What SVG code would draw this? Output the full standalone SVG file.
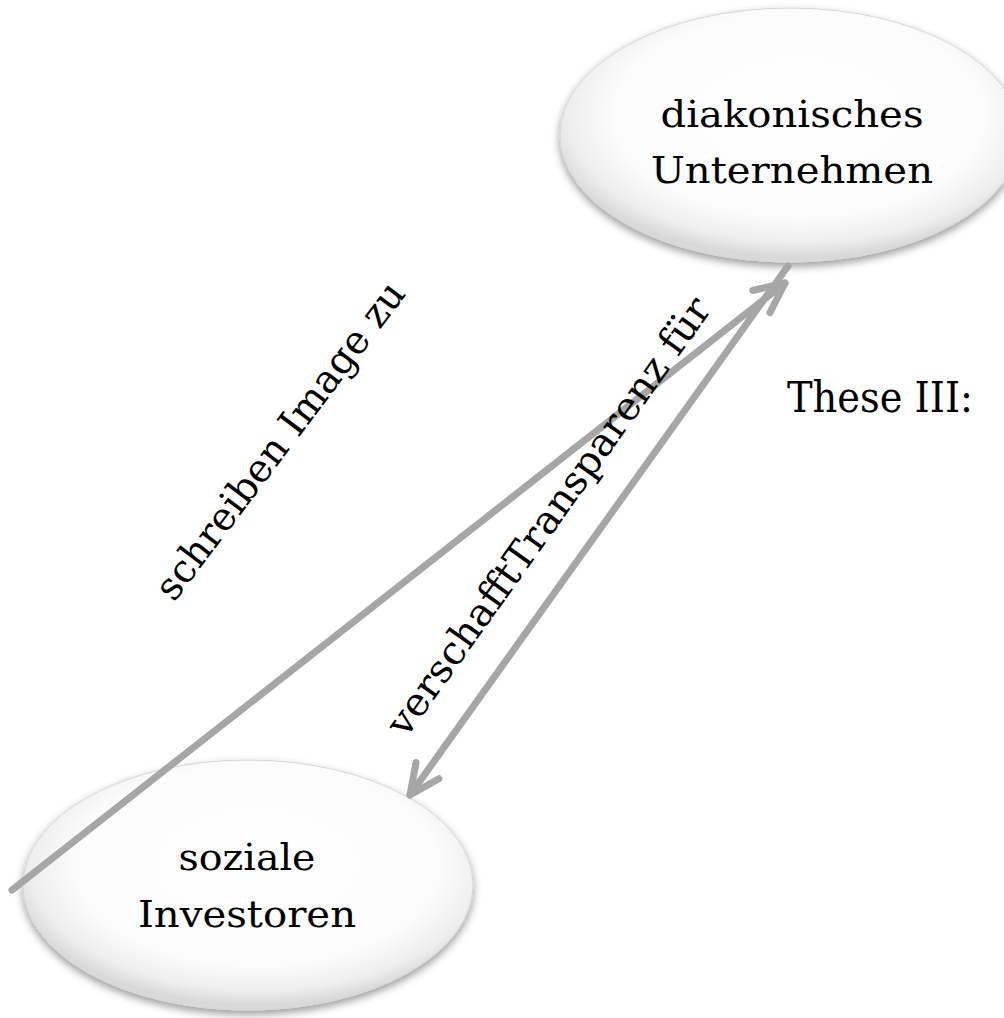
<svg xmlns="http://www.w3.org/2000/svg" width="1004" height="1018" viewBox="0 0 1004 1018">
  <style>
    .node-text { font-family: "DejaVu Serif", "Liberation Serif", serif; font-size: 38px; fill: #000; text-anchor: middle; }
    .label { font-family: "DejaVu Serif", "Liberation Serif", serif; font-size: 39px; fill: #000; }
    .conn { stroke: #a6a6a6; stroke-width: 7; fill: none; stroke-linecap: round; }
    .oval { fill: url(#ovalFill); stroke: #d6d6d6; stroke-width: 1; filter: url(#shadow); }
  </style>
  <defs>
    <radialGradient id="ovalFill" cx="52%" cy="42%" r="56%">
      <stop offset="0" stop-color="#ffffff"/>
      <stop offset="0.72" stop-color="#fcfcfc"/>
      <stop offset="0.9" stop-color="#eeeeee"/>
      <stop offset="1" stop-color="#d9d9d9"/>
    </radialGradient>
    <filter id="shadow" x="-10%" y="-10%" width="120%" height="125%">
      <feGaussianBlur in="SourceAlpha" stdDeviation="4"/>
      <feOffset dx="0" dy="4" result="b"/>
      <feComponentTransfer><feFuncA type="linear" slope="0.4"/></feComponentTransfer>
      <feMerge><feMergeNode/><feMergeNode in="SourceGraphic"/></feMerge>
    </filter>
    <marker id="arrow" markerUnits="userSpaceOnUse" orient="auto" refX="0" refY="0" markerWidth="40" markerHeight="40" overflow="visible">
      <path d="M-30,-14 L0,0 L-30,14" fill="none" stroke="#a6a6a6" stroke-width="7" stroke-linecap="round" stroke-linejoin="round"/>
    </marker>
  </defs>
  <rect width="1004" height="1018" fill="#ffffff"/>

  <g id="node-diakonisches-unternehmen">
    <ellipse class="oval" cx="790" cy="135" rx="230" ry="127"/>
    <text class="node-text" x="792" y="127" textLength="263" lengthAdjust="spacingAndGlyphs">diakonisches</text>
    <text class="node-text" x="792" y="183" textLength="282" lengthAdjust="spacingAndGlyphs">Unternehmen</text>
  </g>

  <g id="node-soziale-investoren">
    <ellipse class="oval" cx="248" cy="885" rx="225" ry="125"/>
    <text class="node-text" x="247" y="870" textLength="137" lengthAdjust="spacingAndGlyphs">soziale</text>
    <text class="node-text" x="247" y="927" textLength="218" lengthAdjust="spacingAndGlyphs">Investoren</text>
  </g>

  <g id="connectors">
    <path class="conn" d="M12,890 L785,283" marker-end="url(#arrow)"/>
    <path class="conn" d="M788,266 L410,795" marker-end="url(#arrow)"/>
  </g>

  <g id="labels">
    <text class="label" transform="translate(174,603) rotate(-53)" textLength="387" lengthAdjust="spacingAndGlyphs">schreiben Image zu</text>
    <text class="label" transform="translate(406,739) rotate(-54.5)" textLength="528" lengthAdjust="spacingAndGlyphs">verschafftTransparenz für</text>
  </g>

  <g id="title">
    <text x="787" y="412" font-family="DejaVu Serif, Liberation Serif, serif" font-size="43" textLength="186" lengthAdjust="spacingAndGlyphs">These III:</text>
  </g>
</svg>
